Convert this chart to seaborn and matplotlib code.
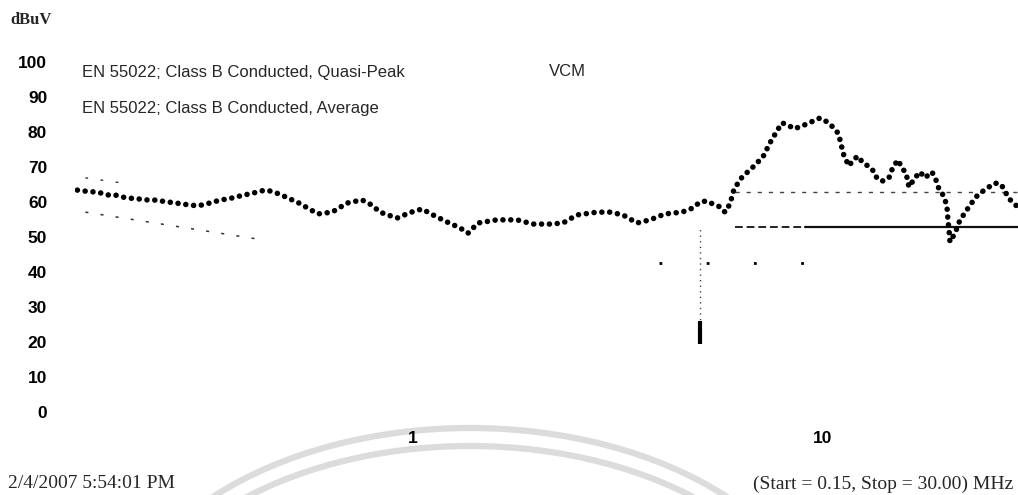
import matplotlib
matplotlib.use("Agg")
import matplotlib.pyplot as plt
from matplotlib.patches import Arc
from matplotlib.ticker import NullLocator
import pandas as pd
import seaborn as sns

# Measured sweep (VCM), frequency in MHz and level in dBuV
freq_mhz = [0.152, 0.159, 0.166, 0.173, 0.181, 0.188, 0.196, 0.204, 0.214, 0.222,
            0.233, 0.243, 0.253, 0.265, 0.275, 0.288, 0.299, 0.313, 0.326, 0.341,
            0.354, 0.371, 0.386, 0.401, 0.419, 0.436, 0.451, 0.472, 0.491, 0.508,
            0.528, 0.587, 0.636, 0.692, 0.752, 0.796, 0.832, 0.916, 0.986, 1.054,
            1.121, 1.213, 1.305, 1.365, 1.444, 1.606, 1.797, 1.967, 2.164, 2.327,
            2.518, 2.818, 3.031, 3.261, 3.527, 3.794, 4.128, 4.542, 4.831, 5.025,
            5.226, 5.406, 5.624, 5.784, 5.882, 6.016, 6.084, 6.364, 6.768, 7.159,
            7.446, 7.745, 7.966, 8.239, 8.522, 8.913, 9.482, 9.862, 10.26, 10.61,
            10.91, 11.04, 11.16, 11.29, 11.61, 11.87, 12.21, 12.56, 13.06, 13.43,
            13.59, 14.05, 14.53, 14.86, 15.29, 15.63, 15.99, 16.26, 16.82, 17.30,
            17.79, 18.50, 18.92, 19.14, 19.57, 19.91, 20.13, 20.24, 20.36, 20.47,
            21.06, 21.66, 22.27, 22.91, 23.82, 24.64, 25.49, 26.36, 27.26, 27.88,
            28.36, 29.16, 30.0]
level_dbuv = [63.4, 63.1, 62.9, 62.6, 62.0, 62.0, 61.4, 61.1, 60.9, 60.6,
              60.6, 60.3, 60.0, 59.7, 59.4, 59.1, 58.9, 59.4, 60.0, 60.6,
              60.9, 61.4, 62.0, 62.3, 62.9, 63.4, 63.1, 62.3, 61.4, 60.6,
              59.7, 56.6, 57.1, 59.7, 60.6, 59.1, 57.1, 55.4, 57.0, 58.0,
              56.3, 54.3, 52.6, 51.1, 54.0, 54.9, 54.9, 53.7, 53.7, 54.0,
              56.3, 57.1, 57.1, 56.3, 54.0, 54.9, 56.6, 57.1, 58.3, 60.0,
              60.3, 59.4, 58.6, 57.1, 58.3, 61.4, 63.7, 67.1, 70.0, 72.9,
              76.9, 80.3, 82.6, 82.0, 80.9, 81.7, 83.1, 84.0, 82.9, 81.4,
              79.7, 77.7, 75.4, 73.1, 70.3, 72.0, 73.1, 71.1, 70.0, 68.3,
              66.6, 66.0, 66.9, 70.0, 72.0, 69.7, 68.3, 64.3, 66.9, 68.6,
              66.9, 68.6, 66.3, 64.3, 62.6, 60.6, 58.6, 54.9, 52.0, 48.6,
              51.1, 54.9, 56.9, 59.1, 61.7, 63.1, 64.3, 65.4, 65.1, 63.1,
              61.4, 59.7, 58.6]

# Limit line pieces (quasi-peak and average)
qp_slope_freq = [0.159, 0.205]
qp_slope_level = [66.9, 65.1]
avg_slope_freq = [0.159, 0.419]
avg_slope_level = [57.1, 49.4]
qp_flat_freq = [6.12, 30.0]
qp_flat_level = [62.9, 62.9]
avg_flat_dash_freq = [6.12, 9.06]
avg_flat_solid_freq = [9.06, 30.0]
avg_flat_level = [52.9, 52.9]

# 5 MHz marker and faint residue trace
marker_freq = 5.03
marker_span = [20.0, 52.6]
marker_heavy = [19.5, 26.0]
residue_freq = [4.0, 9.1]
residue_level = [42.6, 42.6]

y_ticks = list(range(0, 101, 10))
x_ticks = [1, 10]
x_tick_labels = ["1", "10"]

W, H = 1018, 495


def fx(px):
    return px / W


def fy(py):
    return 1 - py / H


sns.set_theme(style="white")
plt.rcParams["font.family"] = ["Liberation Sans", "DejaVu Sans"]

fig = plt.figure(figsize=(W / 100, H / 100), dpi=100)
fig.patch.set_facecolor("white")

# light watermark arcs behind the plot
for top, a, b in [(428, 360, 230), (446, 345, 215)]:
    arc = Arc((fx(470), fy(top + b)), 2 * a / W, 2 * b / H, theta1=0, theta2=180,
              transform=fig.transFigure, color="#dcdcdc", lw=4.5, zorder=-5)
    fig.add_artist(arc)

ax = fig.add_axes([fx(75), 1 - 412 / H, 943 / W, 350 / H])
ax.set_facecolor("none")

df = pd.DataFrame({"freq": freq_mhz, "level": level_dbuv})
sns.lineplot(data=df, x="freq", y="level", ax=ax, sort=False, estimator=None,
             color="black", linewidth=4.0, linestyle=(0, (0.01, 1.4)),
             dash_capstyle="round", zorder=5)

ax.plot(qp_slope_freq, qp_slope_level, color="#333333", lw=1.0, ls=(0, (2, 9)))
ax.plot(avg_slope_freq, avg_slope_level, color="#333333", lw=1.1, ls=(0, (2, 8)))
ax.plot(qp_flat_freq, qp_flat_level, color="#444444", lw=1.0, ls=(0, (3, 5)))
ax.plot(avg_flat_dash_freq, avg_flat_level, color="#222222", lw=1.4, ls=(0, (4, 2)))
ax.plot(avg_flat_solid_freq, avg_flat_level, color="#111111", lw=1.6)
ax.vlines(marker_freq, *marker_span, color="#444444", lw=1.0, ls=(0, (1, 3)))
ax.vlines(marker_freq, *marker_heavy, color="black", lw=3.0)
ax.plot(residue_freq, residue_level, color="black", lw=2.0, ls=(0, (1, 16)))

ax.set_xscale("log")
ax.set_xlim(0.15, 30)
ax.set_ylim(0, 100)
ax.set_xticks(x_ticks)
ax.set_xticklabels(x_tick_labels)
ax.xaxis.set_minor_locator(NullLocator())
ax.set_yticks(y_ticks)
ax.set_xlabel("")
ax.set_ylabel("")
ax.grid(False)
for s in ax.spines.values():
    s.set_visible(False)
ax.tick_params(axis="y", length=0, pad=20, labelsize=12.5, labelcolor="black")
ax.tick_params(axis="x", length=0, pad=14, labelsize=12.5, labelcolor="black")
for lab in ax.get_xticklabels() + ax.get_yticklabels():
    lab.set_fontweight("bold")

serif = ["Liberation Serif", "DejaVu Serif"]
fig.text(fx(10), fy(20), "dBuV", family=serif, weight="bold", size=12,
         va="center", ha="left")
fig.text(fx(82), fy(72), "EN 55022; Class B Conducted, Quasi-Peak", size=12,
         va="center", ha="left")
fig.text(fx(82), fy(109), "EN 55022; Class B Conducted, Average", size=12,
         va="center", ha="left")
fig.text(fx(567), fy(72), "VCM", size=12, va="center", ha="center")
fig.text(fx(8), fy(484), "2/4/2007 5:54:01 PM", family=serif, size=14,
         va="center", ha="left")
fig.text(fx(1013), fy(484), "(Start = 0.15, Stop = 30.00) MHz", family=serif,
         size=14, va="center", ha="right")

fig.savefig("out.png", dpi=100)
